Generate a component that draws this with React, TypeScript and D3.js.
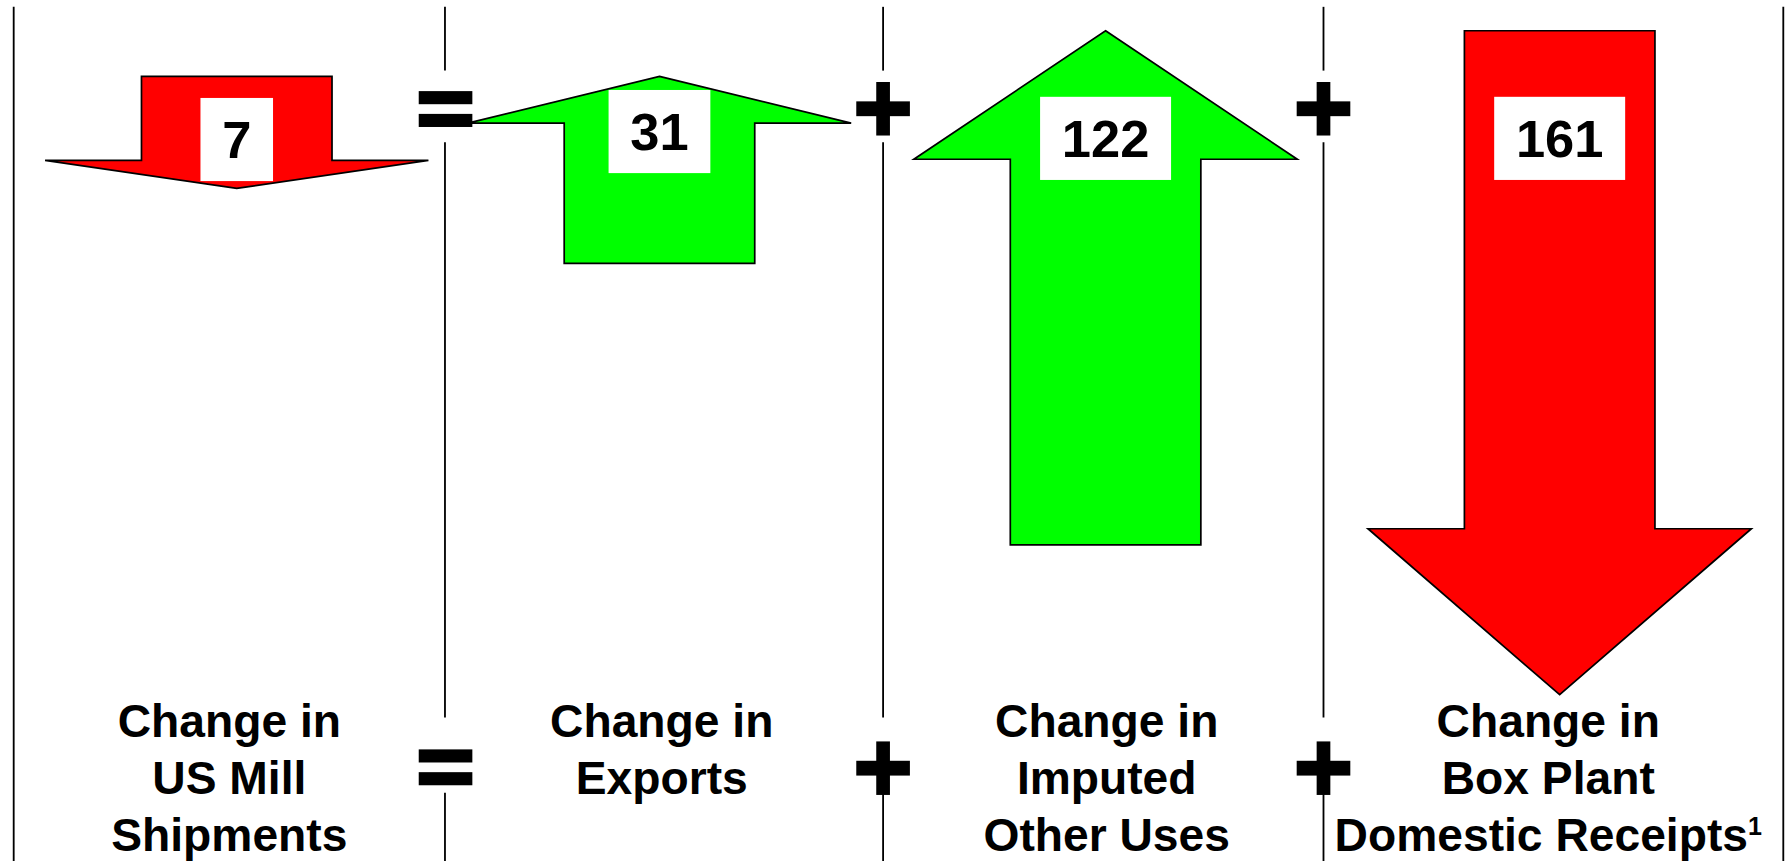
import React, { useEffect, useRef } from "react";
import * as d3 from "d3";

// data
const categories = [
  ["Change in", "US Mill", "Shipments"],
  ["Change in", "Exports"],
  ["Change in", "Imputed", "Other Uses"],
  ["Change in", "Box Plant", "Domestic Receipts"],
];
const footnotes = ["", "", "", "1"];
const changes = [-7, 31, 122, -161];
const operators = ["=", "+", "+"];

// layout (drawing units, viewBox 1568 x 756)
const W = 1568;
const H = 756;
const arrowX = [207.5, 578, 969, 1367];
const arrowAnchor = [67, 67, 27, 27];
const boxTop = [86, 79, 85, 85];
const labelX = [201, 580, 970, 1357];
const dividerX = [12, 390, 774, 1160, 1563];

export default function App() {
  const ref = useRef<SVGSVGElement>(null);

  useEffect(() => {
    const svg = d3.select(ref.current);
    svg.selectAll("*").remove();

    // arrow length grows a bit faster than the value
    const len = d3.scalePow().exponent(1.1).domain([0, 161]).range([82.5, 583]);
    const shaftHalf = 83.5;
    const wingHalf = 168;
    const line = d3.line();

    // column dividers, broken where the signs sit
    const outer = [dividerX[0], dividerX[4]];
    svg
      .append("g")
      .selectAll("line")
      .data(outer)
      .join("line")
      .attr("x1", (d) => d)
      .attr("x2", (d) => d)
      .attr("y1", 6)
      .attr("y2", H)
      .attr("stroke", "#000")
      .attr("stroke-width", 1.6);

    const inner = dividerX.slice(1, 4);
    const segs = [
      [6, 62],
      [125, 630],
      [696, H],
    ];
    const dg = svg.append("g");
    inner.forEach((x) => {
      segs.forEach(([a, b]) => {
        dg.append("line")
          .attr("x1", x)
          .attr("x2", x)
          .attr("y1", a)
          .attr("y2", b)
          .attr("stroke", "#000")
          .attr("stroke-width", 1.6);
      });
    });

    // arrows
    const ag = svg.append("g");
    changes.forEach((v, i) => {
      const cx = arrowX[i];
      const y0 = arrowAnchor[i];
      const L = len(Math.abs(v));
      const h = L * 0.25;
      let pts: [number, number][];
      if (v < 0) {
        pts = [
          [cx - shaftHalf, y0],
          [cx + shaftHalf, y0],
          [cx + shaftHalf, y0 + L - h],
          [cx + wingHalf, y0 + L - h],
          [cx, y0 + L],
          [cx - wingHalf, y0 + L - h],
          [cx - shaftHalf, y0 + L - h],
        ];
      } else {
        pts = [
          [cx, y0],
          [cx + wingHalf, y0 + h],
          [cx + shaftHalf, y0 + h],
          [cx + shaftHalf, y0 + L],
          [cx - shaftHalf, y0 + L],
          [cx - shaftHalf, y0 + h],
          [cx - wingHalf, y0 + h],
        ];
      }
      ag.append("path")
        .attr("d", line(pts) + "Z")
        .attr("fill", v < 0 ? "#ff0000" : "#00ff00")
        .attr("stroke", "#000")
        .attr("stroke-width", 1.5)
        .attr("stroke-linejoin", "miter");

      // value box
      const txt = String(Math.abs(v));
      const bw = txt.length * 25.6 + 38;
      ag.append("rect")
        .attr("x", cx - bw / 2)
        .attr("y", boxTop[i])
        .attr("width", bw)
        .attr("height", 73)
        .attr("fill", "#fff");
      ag.append("text")
        .attr("x", cx)
        .attr("y", boxTop[i] + 53)
        .attr("text-anchor", "middle")
        .attr("font-family", "'Liberation Sans', Arial, sans-serif")
        .attr("font-weight", "bold")
        .attr("font-size", 46)
        .attr("fill", "#000")
        .text(txt);
    });

    // = and + signs, top and bottom
    const sg = svg.append("g").attr("fill", "#000");
    operators.forEach((op, i) => {
      const x = dividerX[i + 1];
      [
        [80, 72],
        [658, 651],
      ].forEach(([eqY, plY]) => {
        if (op === "=") {
          sg.append("rect").attr("x", x - 23).attr("y", eqY).attr("width", 47).attr("height", 11.5);
          sg.append("rect").attr("x", x - 23).attr("y", eqY + 20).attr("width", 47).attr("height", 11.5);
        } else {
          sg.append("rect").attr("x", x - 6).attr("y", plY).attr("width", 12).attr("height", 47);
          sg.append("rect").attr("x", x - 23.5).attr("y", plY + 17).attr("width", 47).attr("height", 13);
        }
      });
    });

    // bottom labels
    const lg = svg.append("g");
    categories.forEach((lines, i) => {
      lines.forEach((t, j) => {
        const el = lg
          .append("text")
          .attr("x", labelX[i])
          .attr("y", 647 + j * 50)
          .attr("text-anchor", "middle")
          .attr("font-family", "'Liberation Sans', Arial, sans-serif")
          .attr("font-weight", "bold")
          .attr("font-size", 40.5)
          .attr("fill", "#000");
        el.append("tspan").text(t);
        if (j === lines.length - 1 && footnotes[i]) {
          el.append("tspan")
            .attr("dy", -14)
            .attr("font-size", 22)
            .text(footnotes[i]);
        }
      });
    });
  }, []);

  return (
    <div style={{ position: "absolute", left: 0, top: 0, background: "#fff" }}>
      <svg
        ref={ref}
        width={1789}
        height={861}
        viewBox={`0 0 ${W} ${H}`}
        preserveAspectRatio="none"
        style={{ display: "block" }}
      />
    </div>
  );
}
